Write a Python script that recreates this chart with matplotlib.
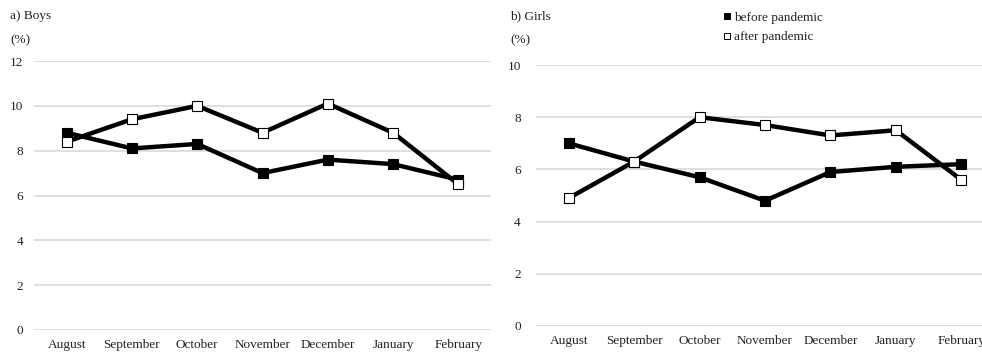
import matplotlib
matplotlib.use("Agg")
import matplotlib.pyplot as plt
from matplotlib.lines import Line2D

plt.rcParams['font.family'] = ['Liberation Serif', 'DejaVu Serif']

months = ["August", "September", "October", "November", "December", "January", "February"]

boys_before = [8.8, 8.1, 8.3, 7.0, 7.6, 7.4, 6.7]
boys_after = [8.4, 9.4, 10.0, 8.8, 10.1, 8.8, 6.5]
girls_before = [7.0, 6.3, 5.7, 4.8, 5.9, 6.1, 6.2]
girls_after = [4.9, 6.3, 8.0, 7.7, 7.3, 7.5, 5.6]

boys_yticks = [0, 2, 4, 6, 8, 10, 12]
girls_yticks = [0, 2, 4, 6, 8, 10]

W, H = 982, 352
FS = 9.5
fig = plt.figure(figsize=(W / 100, H / 100), dpi=100)


def px_axes(x0, x1, y_bottom, y_top):
    return fig.add_axes([x0 / W, (H - y_bottom) / H, (x1 - x0) / W, (y_bottom - y_top) / H])


def draw_panel(ax, before, after, yticks, title, title_x, ypad):
    x = list(range(len(months)))
    ax.set_xlim(-0.5, len(months) - 0.5)
    ax.set_ylim(yticks[0], yticks[-1])
    ax.set_yticks(yticks)
    ax.set_xticks(x)
    ax.set_xticklabels(months)
    ax.yaxis.grid(True, color="#d9d9d9", linewidth=1.2)
    ax.set_axisbelow(True)
    for s in ax.spines.values():
        s.set_visible(False)
    ax.tick_params(axis="both", length=0, labelsize=FS, colors="#222222")
    ax.tick_params(axis="y", pad=ypad)
    ax.tick_params(axis="x", pad=6.5)
    ax.plot(x, before, color="black", linewidth=3.2, marker="s", markersize=6.5,
            markerfacecolor="black", markeredgecolor="black", markeredgewidth=0.8,
            clip_on=False, zorder=3)
    ax.plot(x, after, color="black", linewidth=3.2, marker="s", markersize=6.5,
            markerfacecolor="white", markeredgecolor="black", markeredgewidth=0.8,
            clip_on=False, zorder=4)
    fig.text(title_x / W, 1 - 16 / H, title, fontsize=FS, va="center", ha="left", color="#222222")
    fig.text(title_x / W, 1 - 40 / H, "(%)", fontsize=FS, va="center", ha="left", color="#222222")


ax_b = px_axes(34, 491, 330, 61)
draw_panel(ax_b, boys_before, boys_after, boys_yticks, "a) Boys", 10, 8)

ax_g = px_axes(536, 994, 326, 65)
draw_panel(ax_g, girls_before, girls_after, girls_yticks, "b) Girls", 510, 11)

handles = [
    Line2D([], [], linestyle="none", marker="s", markersize=4.5, markerfacecolor="black",
           markeredgecolor="black", markeredgewidth=0.7),
    Line2D([], [], linestyle="none", marker="s", markersize=4.5, markerfacecolor="white",
           markeredgecolor="black", markeredgewidth=0.7),
]
fig.legend(handles, ["before pandemic", "after pandemic"], loc="upper left",
           bbox_to_anchor=(716 / W, 1 - 5 / H), frameon=False, fontsize=FS,
           handlelength=0.6, handletextpad=0.3, labelspacing=0.55, borderpad=0,
           labelcolor="#222222")

fig.savefig("out.png", dpi=100)
